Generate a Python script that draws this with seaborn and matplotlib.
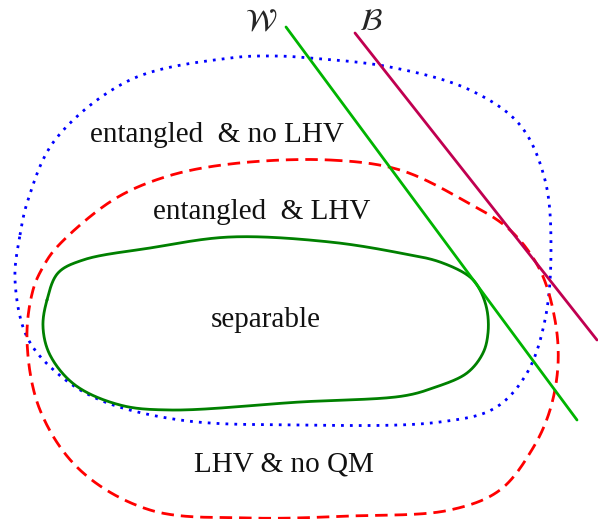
import seaborn as sns
import numpy as np
import pandas as pd
import matplotlib.pyplot as plt

# control points of the region outlines (pixel coords, y down)
blue_x = [20, 28, 55, 130, 230, 275, 310, 390, 470, 520, 545, 551, 545, 527, 495, 440, 300, 180, 100, 57, 27, 15]
blue_y = [235, 200, 140, 80, 58, 56, 58, 67, 90, 125, 180, 250, 320, 373, 408, 422, 425, 420, 400, 373, 337, 280]

red_x = [330, 400, 463, 510, 540, 555, 558, 550, 533, 500, 450, 350, 250, 150, 80, 40, 27, 33, 43, 57, 113, 165, 230]
red_y = [160, 170, 200, 230, 270, 320, 365, 410, 448, 490, 510, 516, 518, 510, 470, 410, 340, 290, 267, 247, 200, 177, 164]

green_x = [47, 58, 83, 150, 230, 330, 400, 440, 470, 480, 487, 488, 483, 467, 433, 403, 300, 170, 120, 75, 50, 43]
green_y = [300, 273, 260, 248, 237, 242, 253, 262, 277, 290, 310, 333, 353, 373, 388, 396, 402, 410, 405, 385, 355, 327]

# witness lines
w_line = ([286, 577], [27, 420])
b_line = ([355, 597], [33, 340])

labels = ["entangled  & no LHV", "entangled  & LHV", "separable", "LHV & no QM"]
label_x = [217, 262, 266, 284]
label_y = [135, 212, 320, 465]


def closed_spline(xs, ys, n=40, alpha=0.5):
    # centripetal Catmull-Rom through the points, closed
    p = np.column_stack([xs, ys]).astype(float)
    m = len(p)
    out = []
    for i in range(m):
        p0, p1, p2, p3 = p[i - 1], p[i], p[(i + 1) % m], p[(i + 2) % m]
        t0 = 0.0
        t1 = t0 + np.linalg.norm(p1 - p0) ** alpha
        t2 = t1 + np.linalg.norm(p2 - p1) ** alpha
        t3 = t2 + np.linalg.norm(p3 - p2) ** alpha
        t = np.linspace(t1, t2, n, endpoint=False)[:, None]
        a1 = (t1 - t) / (t1 - t0) * p0 + (t - t0) / (t1 - t0) * p1
        a2 = (t2 - t) / (t2 - t1) * p1 + (t - t1) / (t2 - t1) * p2
        a3 = (t3 - t) / (t3 - t2) * p2 + (t - t2) / (t3 - t2) * p3
        b1 = (t2 - t) / (t2 - t0) * a1 + (t - t0) / (t2 - t0) * a2
        b2 = (t3 - t) / (t3 - t1) * a2 + (t - t1) / (t3 - t1) * a3
        out.append((t2 - t) / (t2 - t1) * b1 + (t - t1) / (t2 - t1) * b2)
    out.append(p[:1])
    out = np.vstack(out)
    return pd.DataFrame({"x": out[:, 0], "y": out[:, 1]})


sns.set_theme(style="white")
plt.rcParams['font.family'] = ['Liberation Serif', 'DejaVu Serif']
plt.rcParams['mathtext.fontset'] = 'stix'

fig = plt.figure(figsize=(5.98, 5.19), dpi=100)
ax = fig.add_axes([0, 0, 1, 1])

sns.lineplot(data=closed_spline(blue_x, blue_y), x="x", y="y", sort=False, estimator=None,
             color="#0000ff", lw=2, linestyle=(0, (1, 2.2)), ax=ax)
sns.lineplot(data=closed_spline(red_x, red_y), x="x", y="y", sort=False, estimator=None,
             color="#ff0000", lw=2, linestyle=(0, (4.5, 2.5)), ax=ax)
sns.lineplot(data=closed_spline(green_x, green_y), x="x", y="y", sort=False, estimator=None,
             color="#008000", lw=2, ax=ax)

ax.plot(*w_line, color="#00b400", lw=2)
ax.plot(*b_line, color="#c00050", lw=2)

for txt, x, y in zip(labels, label_x, label_y):
    ax.text(x, y, txt, fontsize=21, ha="center", va="center", color="#111111")

ax.text(261, 22, r"$\mathcal{W}$", fontsize=22, ha="center", va="center")
ax.text(371, 22, r"$\mathcal{B}$", fontsize=22, ha="center", va="center")

ax.set_xlim(0, 598)
ax.set_ylim(519, 0)
ax.axis("off")
fig.savefig("out.png", dpi=100)
